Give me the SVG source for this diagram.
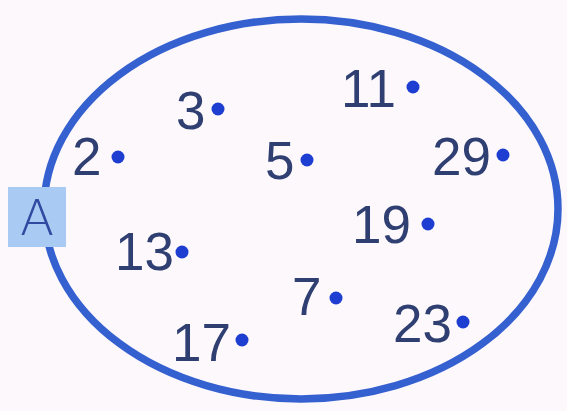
<svg xmlns="http://www.w3.org/2000/svg" width="567" height="411" viewBox="0 0 567 411">
<style>
.n{font-family:"Liberation Sans",Arial,sans-serif;font-size:53px;fill:#2f3f72;}
.d{fill:#1d3ed0;}
</style>
<rect width="567" height="411" fill="#fdf8fc"/>
<g id="setA">
<ellipse cx="301" cy="209" rx="257" ry="190" fill="none" stroke="#3560d0" stroke-width="7.5"/>
</g>
<g id="labelA">
<rect x="8" y="187" width="58" height="60" fill="#a9caf2"/>
<text x="37" y="235" text-anchor="middle" font-family="DejaVu Sans,sans-serif" font-size="50" font-weight="300" fill="#2f4aa0">A</text>
</g>
<g id="n2"><text class="n" x="72" y="175">2</text><circle class="d" cx="118" cy="157" r="6.5"/></g>
<g id="n3"><text class="n" x="176" y="129">3</text><circle class="d" cx="218" cy="109" r="6.5"/></g>
<g id="n11"><text class="n" x="341" y="107">11</text><circle class="d" cx="413" cy="87" r="6.5"/></g>
<g id="n5"><text class="n" x="265" y="179">5</text><circle class="d" cx="307" cy="160" r="6.5"/></g>
<g id="n29"><text class="n" x="432" y="175">29</text><circle class="d" cx="503" cy="155" r="6.5"/></g>
<g id="n19"><text class="n" x="352" y="243">19</text><circle class="d" cx="428" cy="224" r="6.5"/></g>
<g id="n13"><text class="n" x="115" y="270">13</text><circle class="d" cx="182" cy="252" r="6.5"/></g>
<g id="n7"><text class="n" x="292" y="315">7</text><circle class="d" cx="336" cy="298" r="6.5"/></g>
<g id="n23"><text class="n" x="393" y="342">23</text><circle class="d" cx="463" cy="322" r="6.5"/></g>
<g id="n17"><text class="n" x="172" y="361">17</text><circle class="d" cx="242" cy="340" r="6.5"/></g>
</svg>
